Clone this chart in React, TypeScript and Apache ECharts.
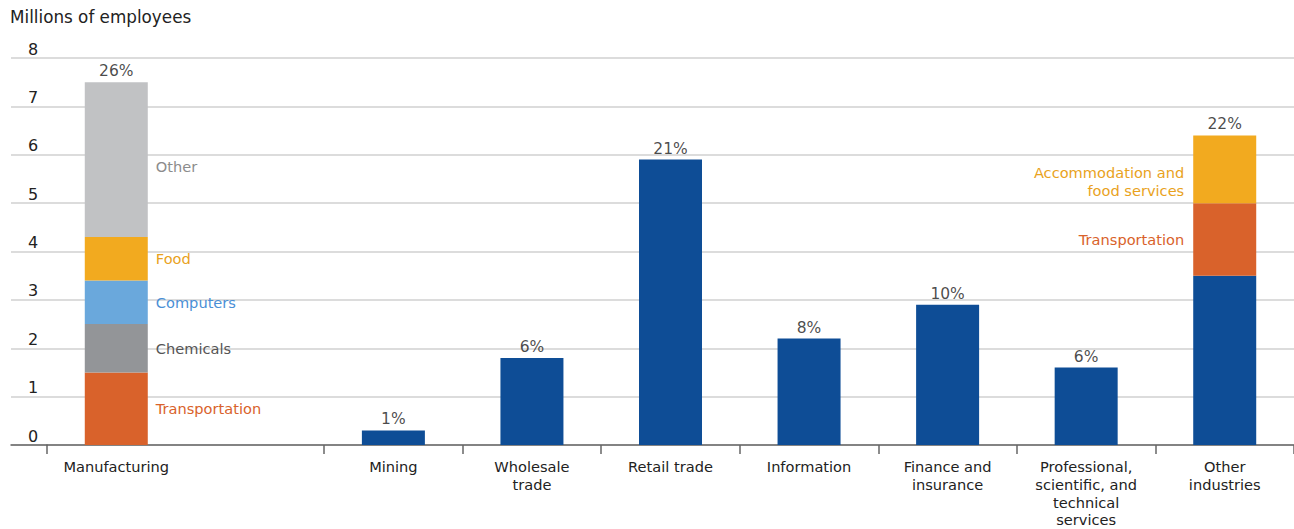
import React, { useEffect, useRef } from "react";
import * as echarts from "echarts";

const categories = [
  "Manufacturing",
  "",
  "Mining",
  "Wholesale\ntrade",
  "Retail trade",
  "Information",
  "Finance and\ninsurance",
  "Professional,\nscientific, and\ntechnical\nservices",
  "Other\nindustries",
];
const shares = ["26%", "", "1%", "6%", "21%", "8%", "10%", "6%", "22%"];

// Manufacturing breakdown (millions)
const mfgTransportation = [1.5, "-", "-", "-", "-", "-", "-", "-", "-"];
const mfgChemicals = [1.0, "-", "-", "-", "-", "-", "-", "-", "-"];
const mfgComputers = [0.9, "-", "-", "-", "-", "-", "-", "-", "-"];
const mfgFood = [0.9, "-", "-", "-", "-", "-", "-", "-", "-"];
const mfgOther = [3.2, "-", "-", "-", "-", "-", "-", "-", "-"];
// Other sectors (millions)
const industryBase = ["-", "-", 0.3, 1.8, 5.9, 2.2, 2.9, 1.6, 3.5];
const otherTransportation = ["-", "-", "-", "-", "-", "-", "-", "-", 1.5];
const otherAccommodation = ["-", "-", "-", "-", "-", "-", "-", "-", 1.4];

const yTicks = [0, 1, 2, 3, 4, 5, 6, 7, 8];

const FONT = "DejaVu Sans";
const BLUE = "#0E4D96";
const ORANGE = "#D9622B";
const GOLD = "#F2AA1F";

export default function App() {
  const ref = useRef<HTMLDivElement>(null);
  useEffect(() => {
    if (!ref.current) return;
    const chart = echarts.init(ref.current, undefined, { renderer: "svg" });

    const allSeries = [
      mfgTransportation,
      mfgChemicals,
      mfgComputers,
      mfgFood,
      mfgOther,
      industryBase,
      otherTransportation,
      otherAccommodation,
    ];
    const totals = categories.map((_, i) =>
      allSeries.reduce((s, arr) => s + (typeof arr[i] === "number" ? (arr[i] as number) : 0), 0)
    );

    const bar = (
      name: string,
      data: any[],
      color: string,
      labelColor: string | null,
      side: "right" | "left",
      offset: number[] = [0, 0]
    ) => ({
      name,
      type: "bar",
      stack: "total",
      xAxisIndex: 1,
      yAxisIndex: 1,
      barWidth: 63,
      data,
      itemStyle: { color },
      label: labelColor
        ? {
            show: true,
            position: side,
            distance: side === "right" ? 8 : 9,
            formatter: name,
            color: labelColor,
            fontFamily: FONT,
            fontSize: 14.6,
            lineHeight: 18,
            align: side === "right" ? "left" : "right",
            offset,
          }
        : { show: false },
    });

    chart.setOption({
      animation: false,
      backgroundColor: "#fff",
      title: {
        text: "Millions of employees",
        left: 5,
        top: 3,
        textStyle: { fontFamily: FONT, fontSize: 16.8, fontWeight: "normal", color: "#222" },
      },
      grid: [
        { left: 11, width: 36, top: 58, bottom: 84 },
        { left: 47, right: 0, top: 58, bottom: 84 },
      ],
      xAxis: [
        {
          gridIndex: 0,
          type: "value",
          min: 0,
          max: 1,
          axisLine: { show: true, lineStyle: { color: "#666", width: 1.5 } },
          axisTick: { show: false },
          axisLabel: { show: false },
          splitLine: { show: false },
        },
        {
          gridIndex: 1,
          type: "category",
          data: categories,
          axisLine: { show: true, lineStyle: { color: "#666", width: 1.5 } },
          axisTick: {
            show: true,
            length: 9,
            interval: (i: number) => i !== 1,
            lineStyle: { color: "#666", width: 1.5 },
          },
          axisLabel: {
            interval: 0,
            margin: 13,
            color: "#222",
            fontFamily: FONT,
            fontSize: 14.6,
            lineHeight: 17.6,
          },
        },
      ],
      yAxis: [
        {
          gridIndex: 0,
          type: "value",
          min: 0,
          max: 8,
          interval: 1,
          axisLine: { show: false },
          axisTick: { show: false },
          splitLine: { show: true, lineStyle: { color: "#dcdcdc", width: 2 } },
          axisLabel: {
            inside: true,
            margin: 17,
            verticalAlign: "bottom",
            padding: [0, 0, 1, 0],
            color: "#222",
            fontFamily: FONT,
            fontSize: 16,
            formatter: (v: number) => (yTicks.includes(v) ? String(v) : ""),
          },
        },
        {
          gridIndex: 1,
          type: "value",
          min: 0,
          max: 8,
          interval: 1,
          axisLine: { show: false },
          axisTick: { show: false },
          axisLabel: { show: false },
          splitLine: { show: true, lineStyle: { color: "#dcdcdc", width: 2 } },
        },
      ],
      series: [
        bar("Transportation", mfgTransportation, ORANGE, ORANGE, "right"),
        bar("Chemicals", mfgChemicals, "#939598", "#555", "right"),
        bar("Computers", mfgComputers, "#6AA8DC", "#4A8FD6", "right"),
        bar("Food", mfgFood, GOLD, "#E9A21C", "right"),
        bar("Other", mfgOther, "#C1C2C4", "#8C8C8C", "right", [0, 7]),
        bar("Industry", industryBase, BLUE, null, "right"),
        bar("Transportation", otherTransportation, ORANGE, ORANGE, "left"),
        bar("Accommodation and\nfood services", otherAccommodation, GOLD, "#E9A21C", "left", [0, 12]),
        {
          name: "Share",
          type: "scatter",
          xAxisIndex: 1,
          yAxisIndex: 1,
          symbolSize: 0,
          data: totals.map((t, i) => (shares[i] ? t : "-")),
          label: {
            show: true,
            position: "top",
            distance: 3,
            formatter: (p: any) => shares[p.dataIndex],
            color: "#1a1a1a",
            fontFamily: FONT,
            fontSize: 15.5,
          },
          z: 5,
        },
      ],
    });
    return () => chart.dispose();
  }, []);
  return (
    <div
      ref={ref}
      style={{ position: "fixed", left: 0, top: 0, width: 1294, height: 529 }}
    />
  );
}
